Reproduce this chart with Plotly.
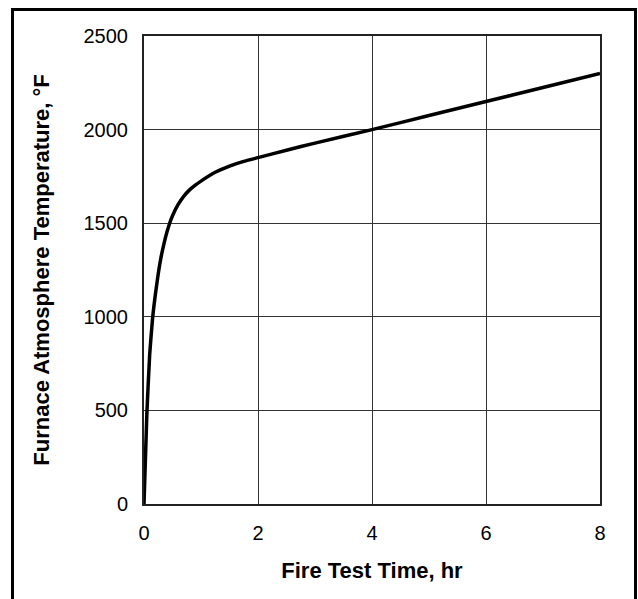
import plotly.graph_objects as go

# Data (time in hours, temperature in °F)
time_hr = [0, 0.05, 0.1, 0.15, 0.2, 0.25, 0.3, 0.35, 0.4, 0.45, 0.5, 0.6, 0.7, 0.8, 0.9, 1.0,
           1.25, 1.5, 1.75, 2.0, 2.5, 3.0, 4.0, 5.0, 6.0, 7.0, 8.0]
temp_f = [0, 480, 800, 990, 1120, 1230, 1320, 1390, 1450, 1500, 1540, 1600, 1645, 1678, 1703, 1725,
          1772, 1805, 1830, 1850, 1890, 1928, 2000, 2075, 2150, 2225, 2300]

x_ticks = [0, 2, 4, 6, 8]
y_ticks = [0, 500, 1000, 1500, 2000, 2500]

W, H = 638, 599
L, R, T, B = 144, 600, 36, 504

fig = go.Figure()
fig.add_trace(go.Scatter(
    x=time_hr, y=temp_f, mode="lines",
    line=dict(color="black", width=3.5, shape="spline", smoothing=0.5),
    hoverinfo="skip", showlegend=False,
))

font = dict(family="Liberation Sans, Arial, sans-serif", size=20, color="black")

fig.update_layout(
    width=W, height=H,
    margin=dict(l=L, r=W - R, t=T, b=H - B),
    paper_bgcolor="white", plot_bgcolor="white",
    font=font,
    xaxis=dict(
        range=[0, 8], tickvals=x_ticks, ticks="", ticklen=0, ticklabelstandoff=10,
        showgrid=True, gridcolor="#333333", gridwidth=1,
        showline=True, linecolor="#222222", linewidth=2, mirror=True,
        zeroline=False, tickfont=dict(size=20),
        title=dict(text="<b>Fire Test Time, hr</b>", font=dict(size=22), standoff=20),
    ),
    yaxis=dict(
        range=[0, 2500], tickvals=y_ticks, ticks="", ticklen=0, ticklabelstandoff=10,
        showgrid=True, gridcolor="#333333", gridwidth=1,
        showline=True, linecolor="#222222", linewidth=2, mirror=True,
        zeroline=False, tickfont=dict(size=20),
        title=dict(text="<b>Furnace Atmosphere Temperature, °F</b>", font=dict(size=22), standoff=28),
    ),
    shapes=[dict(
        type="rect", xref="paper", yref="paper",
        x0=(12.5 - L) / (R - L), x1=(635.5 - L) / (R - L),
        y0=(B - 615) / (B - T), y1=(B - 9.5) / (B - T),
        line=dict(color="black", width=3), fillcolor="rgba(0,0,0,0)", layer="above",
    )],
)

fig.write_html(
    "out.html",
    config={"displayModeBar": False},
    post_script="document.body.style.margin='0';document.body.style.overflow='hidden';",
)
